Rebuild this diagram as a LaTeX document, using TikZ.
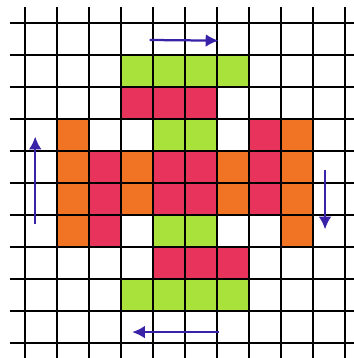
\documentclass[tikz,border=0pt]{standalone}
\usetikzlibrary{arrows.meta}
\definecolor{leaf}{RGB}{168,226,58}
\definecolor{rose}{RGB}{232,52,92}
\definecolor{tang}{RGB}{240,116,36}
\definecolor{ink}{RGB}{58,34,168}
\begin{document}
\begin{tikzpicture}[x=1cm,y=-1cm,
  turn/.style={ink,line width=2pt,-{Latex[length=4mm,width=4mm]}}]
\useasboundingbox (-0.78,-0.72) rectangle (10.28,10.47);
% green bars
\fill[leaf] (3,1) rectangle (7,2);
\fill[leaf] (4,3) rectangle (6,4);
\fill[leaf] (4,6) rectangle (6,7);
\fill[leaf] (3,8) rectangle (7,9);
% red
\fill[rose] (3,2) rectangle (6,3);
\fill[rose] (4,7) rectangle (7,8);
\fill[rose] (2,4) rectangle (3,7);
\fill[rose] (7,3) rectangle (8,6);
\fill[rose] (4,4) rectangle (6,6);
% orange
\fill[tang] (1,3) rectangle (2,7);
\fill[tang] (8,3) rectangle (9,7);
\fill[tang] (3,4) rectangle (4,6);
\fill[tang] (6,4) rectangle (7,6);
% squared paper
\draw[line width=1.5pt] (-0.47,-0.5) grid (10.28,10.47);
% arrows
\draw[turn] (3.9,0.53) -- (6.05,0.55);
\draw[turn] (9.38,4.6) -- (9.38,6.45);
\draw[turn] (6.05,9.66) -- (3.35,9.66);
\draw[turn] (0.32,6.28) -- (0.32,3.55);
\end{tikzpicture}
\end{document}
